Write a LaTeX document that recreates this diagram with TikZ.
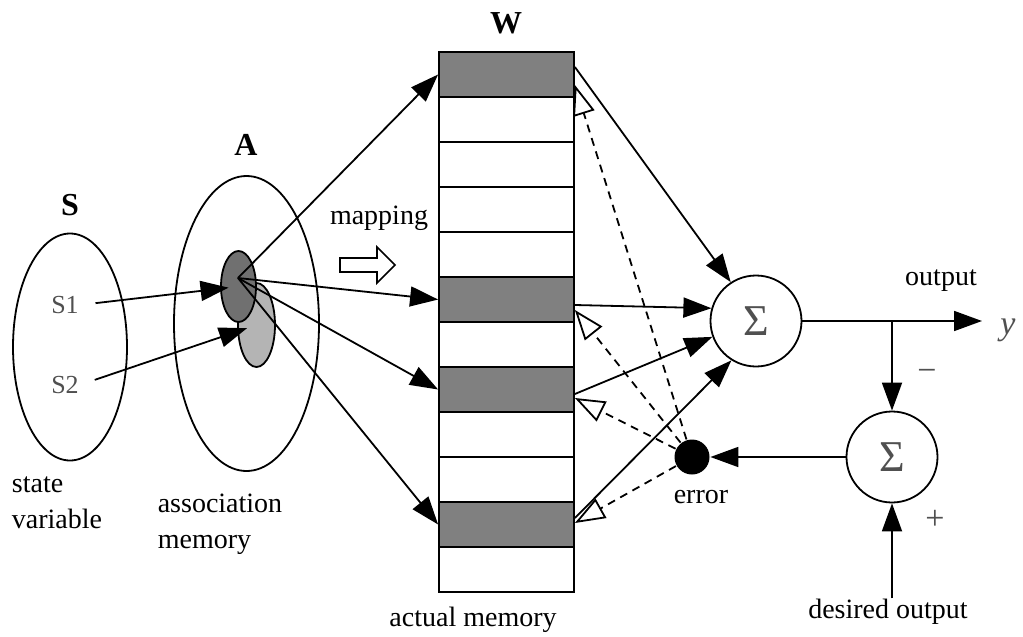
\documentclass[tikz,border=0pt]{standalone}
\usepackage{fontspec}
\setmainfont{Liberation Serif}
\usetikzlibrary{arrows.meta,shapes.geometric}

\definecolor{cellgray}{HTML}{808080}
\definecolor{darkspot}{HTML}{707070}
\definecolor{lightspot}{HTML}{B4B4B4}
\definecolor{labgray}{HTML}{505050}

\begin{document}
\begin{tikzpicture}[x=0.5pt,y=-0.5pt,line width=0.9pt,
    every node/.style={inner sep=0pt,font=\fontsize{14}{18}\selectfont},
    set/.style={draw,ellipse},
    cell/.style={draw,minimum width=67.5pt,minimum height=22.5pt},
    adder/.style={draw,circle,minimum size=45.5pt,text=labgray,font=\fontsize{22}{22}\selectfont},
    big/.style={font=\fontsize{16}{16}\selectfont\bfseries},
    sign/.style={text=labgray,font=\fontsize{17}{17}\selectfont},
    feed/.style={-{Triangle[length=14pt,width=10pt]}},
    learn/.style={dash pattern=on 4pt off 3pt,-{Triangle[length=15pt,width=11pt,fill=white]}}]
        \useasboundingbox (0,0) rectangle (1023,637);
        % state set and association set
        \node[set,minimum width=57pt,minimum height=113.5pt] (S) at (70,347) {};
        \node[set,minimum width=72.5pt,minimum height=147.5pt] (A) at (246.5,323.5) {};
        \node[set,fill=lightspot,minimum width=18.5pt,minimum height=42pt] (a2) at (256.5,325) {};
        \node[set,fill=darkspot,minimum width=17.5pt,minimum height=35.5pt] (a1) at (238.5,286.5) {};
        \coordinate (hub) at (238,278);
        \node[big] (Slab) at (70,205) {S};
        \node[big] (Alab) at (246,145) {A};
        \node[big] (Wlab) at (506,23) {W};
        \node[text=labgray,font=\fontsize{13}{13}\selectfont] (s1) at (65,305) {S1};
        \node[text=labgray,font=\fontsize{13}{13}\selectfont] (s2) at (65,385) {S2};
        \node[align=left] (statelab) at (57,503) {state\\variable};
        \node[align=left] (assoclab) at (220,524) {association\\memory};
        % weight memory
        \foreach \i/\c in {1/cellgray,2/white,3/white,4/white,5/white,6/cellgray,
                           7/white,8/cellgray,9/white,10/white,11/cellgray,12/white}
          \node[cell,fill=\c] (w\i) at (506.5,{29.5+45*\i}) {};
        \node (actual) at (473,620) {actual memory};
        \node (maplab) at (379,218) {mapping};
        \draw[line width=0.8pt] (340,258) -- (377,258) -- (377,247) -- (395,265)
          -- (377,283) -- (377,272) -- (340,272) -- cycle;
        % adders and error
        \node[adder] (sum1) at (756,321) {Σ};
        \node[adder] (sum2) at (892,457) {Σ};
        \node[circle,fill=black,minimum size=17.5pt] (err) at (692,457) {};
        \node (errlab) at (701,497) {error};
        \node (outlab) at (941,281) {output};
        \node (want) at (888,612) {desired output};
        \node[text=labgray,font=\fontsize{17}{17}\selectfont\itshape] (ylab) at (1008,330) {y};
        \node[sign] (minus) at (927,375) {−};
        \node[sign] (plus) at (935,520) {+};
        \coordinate (yend) at (982,321);
        % inputs into A
        \draw[feed,shorten <=8pt,shorten >=5pt] (s1.east) -- (a1.center);
        \draw[feed,shorten <=8pt,shorten >=5pt] (s2.east) -- (a2.center);
        \foreach \i in {1,6,8,11}
          \draw[feed] (hub) -- (w\i.west);
        % weights to the adder
        \draw[feed] ([yshift=3.75pt]w1.east) -- (sum1.123);
        \draw[feed] ([yshift=-2.75pt]w6.east) -- (sum1.164);
        \draw[feed] ([yshift=-2.25pt]w8.east) -- (sum1.200);
        \draw[feed] ([yshift=3.25pt]w11.east) -- (sum1.238);
        % error back to the weights
        \draw[learn] (err) -- ([yshift=-5.25pt]w1.east);
        \draw[learn] (err) -- ([yshift=-5.25pt]w6.east);
        \draw[learn] (err) -- ([yshift=-4.25pt]w8.east);
        \draw[learn] (err) -- ([yshift=0.75pt]w11.east);
        % output and comparison
        \draw[feed] (sum1.east) -- (yend);
        \draw[feed] (sum1.east -| sum2.north) -- (sum2.north);
        \draw[feed] (sum2.west) -- (err.east);
        \draw[feed] (want.north -| sum2.south) -- (sum2.south);
\end{tikzpicture}
\end{document}
